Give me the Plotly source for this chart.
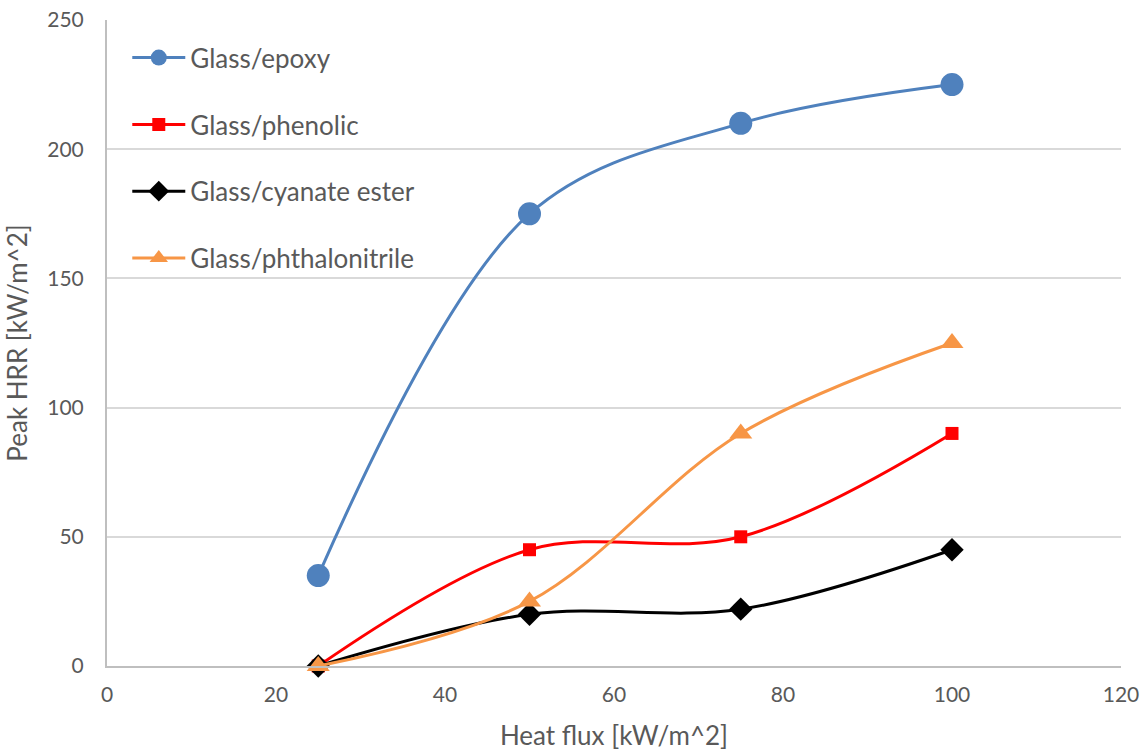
import plotly.graph_objects as go

heat_flux = [25, 50, 75, 100]
epoxy = [35, 175, 210, 225]
phenolic = [0, 45, 50, 90]
cyanate_ester = [0, 20, 22, 45]
phthalonitrile = [0, 25, 90, 125]

x_ticks = [0, 20, 40, 60, 80, 100, 120]
y_ticks = [0, 50, 100, 150, 200, 250]

FONT = "Lato, 'Open Sans', sans-serif"
TEXT = "#595959"

series = [
    ("Glass/epoxy", epoxy, "#4F81BD", "circle", 23),
    ("Glass/phenolic", phenolic, "#FF0000", "square", 13),
    ("Glass/cyanate ester", cyanate_ester, "#000000", "diamond", 18),
    ("Glass/phthalonitrile", phthalonitrile, "#F79646", "triangle-up", 20),
]

fig = go.Figure()
for i, (name, ys, color, symbol, size) in enumerate(series):
    fig.add_trace(go.Scatter(
        x=heat_flux, y=ys, name=name, mode="lines+markers",
        line=dict(color=color, width=3, shape="spline", smoothing=1),
        marker=dict(color=color, symbol=symbol, size=size, line=dict(width=0)),
        legendgroup=f"g{i}", cliponaxis=False,
    ))

fig.update_layout(
    width=1145, height=751,
    margin=dict(l=107, r=24, t=20, b=85),
    paper_bgcolor="white", plot_bgcolor="white",
    font=dict(family=FONT, color=TEXT, size=21),
    showlegend=True,
    legend=dict(
        x=0.02, y=0.978, xanchor="left", yanchor="top",
        bgcolor="rgba(0,0,0,0)", font=dict(size=26, color=TEXT, family=FONT),
        traceorder="grouped", tracegroupgap=30, itemwidth=53,
    ),
    xaxis=dict(
        range=[0, 120], tickvals=x_ticks, showgrid=False, zeroline=False,
        showline=True, linecolor="#BFBFBF", linewidth=2, automargin=False,
        ticks="", tickfont=dict(size=21, color=TEXT), ticklabelstandoff=9,
        title=dict(text="Heat flux [kW/m^2]", font=dict(size=26, color=TEXT), standoff=28),
    ),
    yaxis=dict(
        range=[0, 250], tickvals=y_ticks, showgrid=True, gridcolor="#D9D9D9", gridwidth=1.5,
        zeroline=False, showline=True, linecolor="#BFBFBF", linewidth=2, automargin=False,
        ticks="", tickfont=dict(size=21, color=TEXT), ticklabelstandoff=17,
        title=dict(text="Peak HRR [kW/m^2]", font=dict(size=26, color=TEXT), standoff=12),
    ),
)

fig.write_html("out.html")
